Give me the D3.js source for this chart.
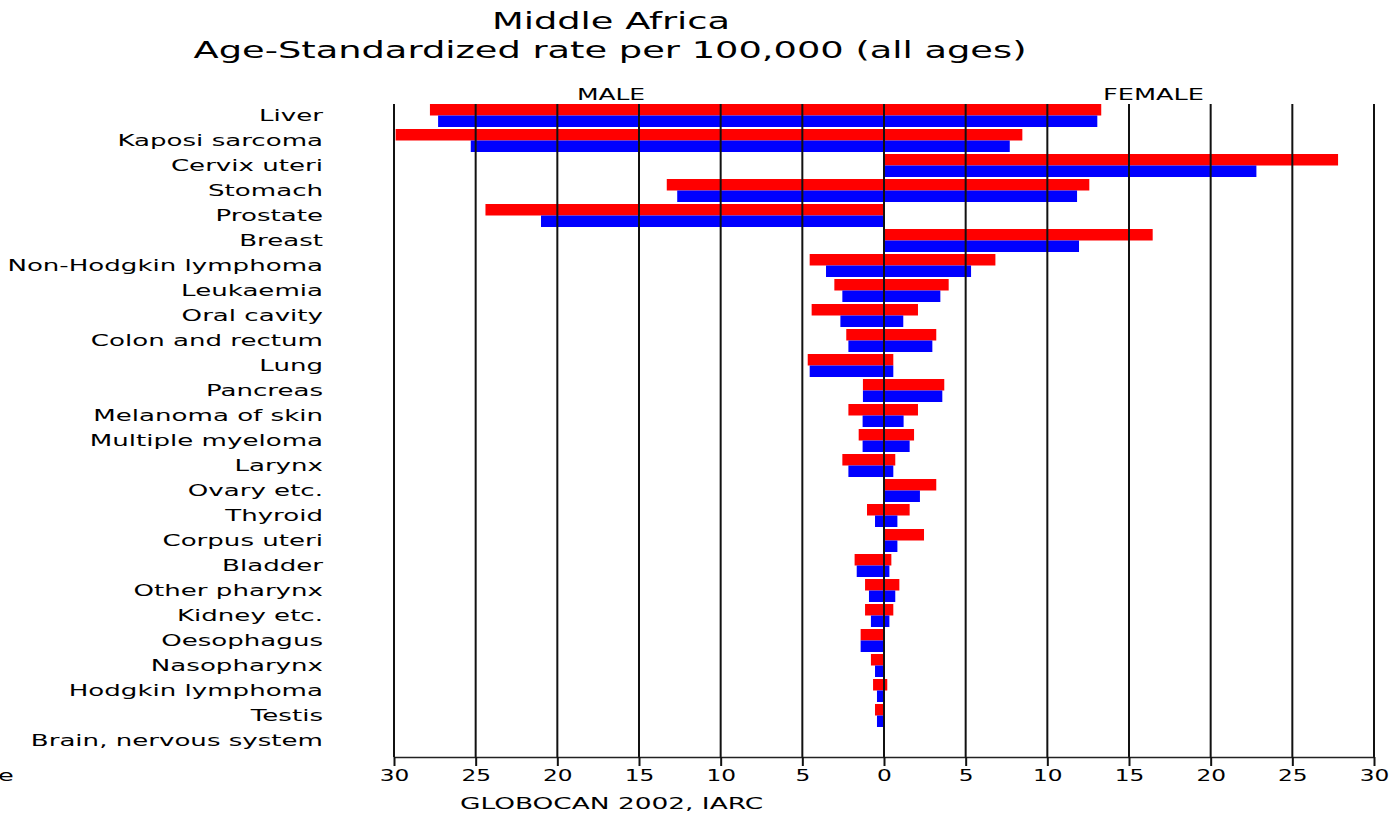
<!DOCTYPE html>
<html>
<head>
<meta charset="utf-8">
<script src="https://cdn.jsdelivr.net/npm/d3@7"></script>
<style>
  html, body { margin: 0; padding: 0; background: #fff; }
  svg { display: block; font-family: "DejaVu Sans", Verdana, sans-serif; }
</style>
</head>
<body>
<svg id="chart" width="1396" height="818"></svg>
<script>
// ---- data ----
const categories = ["Liver", "Kaposi sarcoma", "Cervix uteri", "Stomach", "Prostate", "Breast",
  "Non-Hodgkin lymphoma", "Leukaemia", "Oral cavity", "Colon and rectum", "Lung", "Pancreas",
  "Melanoma of skin", "Multiple myeloma", "Larynx", "Ovary etc.", "Thyroid", "Corpus uteri",
  "Bladder", "Other pharynx", "Kidney etc.", "Oesophagus", "Nasopharynx", "Hodgkin lymphoma",
  "Testis", "Brain, nervous system"];
const maleIncidence = [27.8, 29.9, 0, 13.3, 24.4, 0, 4.55, 3.04, 4.43, 2.31, 4.67, 1.29,
  2.18, 1.55, 2.55, 0, 1.04, 0, 1.8, 1.16, 1.16, 1.43, 0.8, 0.67, 0.55, 0];
const maleMortality = [27.3, 25.3, 0, 12.66, 21.0, 0, 3.55, 2.55, 2.67, 2.18, 4.55, 1.29,
  1.31, 1.31, 2.18, 0, 0.55, 0, 1.67, 0.92, 0.8, 1.43, 0.55, 0.43, 0.43, 0];
const femaleIncidence = [13.3, 8.47, 27.8, 12.57, 0, 16.45, 6.82, 3.96, 2.08, 3.2, 0.57, 3.69,
  2.08, 1.84, 0.69, 3.2, 1.57, 2.45, 0.45, 0.94, 0.57, 0, 0, 0.2, 0, 0];
const femaleMortality = [13.06, 7.7, 22.8, 11.82, 0, 11.94, 5.33, 3.45, 1.18, 2.96, 0.57, 3.57,
  1.2, 1.57, 0.57, 2.2, 0.82, 0.82, 0.33, 0.69, 0.33, 0, 0, 0, 0, 0];
const tickValues = [-30, -25, -20, -15, -10, -5, 0, 5, 10, 15, 20, 25, 30];
const titleLines = ["Middle Africa", "Age-Standardized rate per 100,000 (all ages)"];
const sideLabels = ["MALE", "FEMALE"];
const sourceText = "GLOBOCAN 2002, IARC";

// ---- layout ----
const SX = 1.6;           // horizontal stretch of the original raster text
const svg = d3.select("#chart");
const x = d3.scaleLinear().domain([-30, 30]).range([394, 1374]);
const y = d3.scaleBand().domain(categories).range([104, 752]).paddingInner(0.08).paddingOuter(0);
const axisY = 757;
const gridTop = 104;

function stretchedText(px, py, str, size, anchor, sx) {
  const g = svg.append("g").attr("transform", `translate(${px},${py}) scale(${sx || SX},1)`);
  g.append("text").attr("text-anchor", anchor).attr("font-size", size).attr("fill", "#000").text(str);
  return g;
}

// title
stretchedText(611, 29, titleLines[0], 23, "middle", 1.6);
stretchedText(610, 57.5, titleLines[1], 23, "middle", 1.6);

// MALE / FEMALE
stretchedText(611, 100, sideLabels[0], 16, "middle", 1.56);
stretchedText(1153.5, 100, sideLabels[1], 16, "middle", 1.6);

// rows
const rows = categories.map((c, i) => ({
  cat: c, mi: maleIncidence[i], mm: maleMortality[i], fi: femaleIncidence[i], fm: femaleMortality[i]
}));
const half = y.bandwidth() / 2;
const bars = svg.append("g");
rows.forEach(r => {
  const y0 = y(r.cat);
  // male (left)
  if (r.mi > 0) bars.append("rect").attr("x", x(-r.mi)).attr("y", y0).attr("width", x(0) - x(-r.mi)).attr("height", half).attr("fill", "#ff0000");
  if (r.mm > 0) bars.append("rect").attr("x", x(-r.mm)).attr("y", y0 + half).attr("width", x(0) - x(-r.mm)).attr("height", half).attr("fill", "#0000ff");
  // female (right)
  if (r.fi > 0) bars.append("rect").attr("x", x(0)).attr("y", y0).attr("width", x(r.fi) - x(0)).attr("height", half).attr("fill", "#ff0000");
  if (r.fm > 0) bars.append("rect").attr("x", x(0)).attr("y", y0 + half).attr("width", x(r.fm) - x(0)).attr("height", half).attr("fill", "#0000ff");
});

// category labels
rows.forEach(r => {
  stretchedText(323, y(r.cat) + half + 5.8, r.cat, 16, "end", 1.63);
});

// grid lines (drawn over the bars)
svg.append("g").selectAll("line").data(tickValues).join("line")
  .attr("x1", d => x(d)).attr("x2", d => x(d))
  .attr("y1", gridTop).attr("y2", axisY)
  .attr("stroke", "#111").attr("stroke-width", 2);

// bottom axis
const axis = d3.axisBottom(x).tickValues(tickValues).tickFormat(d => Math.abs(d))
  .tickSize(9).tickSizeOuter(0).tickPadding(4);
const ag = svg.append("g").attr("transform", `translate(0,${axisY})`).call(axis);
ag.select(".domain").attr("stroke", "#222").attr("stroke-width", 1.6);
ag.selectAll(".tick line").attr("stroke", "#111").attr("stroke-width", 2);
ag.selectAll(".tick text").attr("font-size", 15).attr("fill", "#000")
  .attr("font-family", "DejaVu Sans, Verdana, sans-serif")
  .attr("transform", "scale(1.55,1)")
  .attr("x", 0);

// source
stretchedText(460, 809, sourceText, 16, "start", 1.65);

// clipped fragment at left edge (as in the reference)
stretchedText(-2, 780.5, "e", 16, "start", 1.6);
</script>
</body>
</html>
